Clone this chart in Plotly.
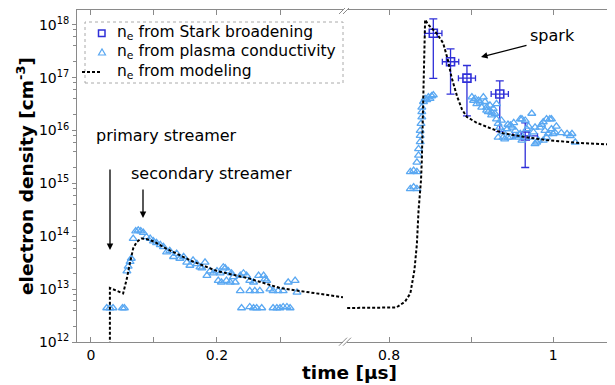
import plotly.graph_objects as go

# ---------------- data ----------------
# model curve (left part of broken axis)
model_t_left = [0.030, 0.030, 0.051, 0.057, 0.062, 0.067, 0.0725, 0.080, 0.088, 0.100, 0.120, 0.160, 0.200, 0.250, 0.300, 0.350, 0.400]
model_n_left = [3e11, 1.05e13, 8.3e12, 1.6e13, 3.2e13, 5.9e13, 7.8e13, 9.1e13, 8.9e13, 7.9e13, 5.8e13, 3.4e13, 2.2e13, 1.6e13, 1.05e13, 8.5e12, 7.0e12]
# model curve (right part)
model_t_right = [0.749, 0.809, 0.8195, 0.826, 0.831, 0.834, 0.836, 0.839, 0.840, 0.842, 0.844, 0.848, 0.858, 0.866, 0.872, 0.876, 0.883, 0.889, 0.895, 0.907, 0.923, 0.939, 0.964, 0.992, 1.033, 1.074]
model_n_right = [4.4e12, 4.5e12, 5.8e12, 8.3e12, 2.3e13, 7.2e13, 3.1e14, 1.15e15, 2.8e15, 1.0e17, 1.25e18, 1.0e18, 6.9e17, 4.5e17, 2.1e17, 1.05e17, 4.4e16, 2.5e16, 1.8e16, 1.4e16, 1.1e16, 8.9e15, 7.6e15, 6.6e15, 5.8e15, 5.4e15]

# Stark broadening measurements
stark_t = [0.854, 0.875, 0.895, 0.935, 0.966]
stark_t_err = [0.0105, 0.010, 0.0104, 0.0105, 0.015]
stark_n = [6.9e17, 2.0e17, 9.8e16, 4.9e16, 7.9e15]
stark_n_hi = [1.29e18, 3.5e17, 1.7e17, 8.7e16, 1.4e16]
stark_n_lo = [9.7e16, 4.9e16, 1.9e16, 9.5e15, 2.0e15]

# plasma conductivity (left part)
cond_t_left = [0.025, 0.030, 0.035, 0.050, 0.053, 0.057, 0.059, 0.062, 0.064, 0.067, 0.071, 0.075, 0.079, 0.083,
               0.088, 0.094, 0.099, 0.104, 0.110, 0.115, 0.120, 0.125, 0.131, 0.136, 0.141, 0.147, 0.152, 0.157,
               0.162, 0.168, 0.173, 0.176, 0.181, 0.184, 0.189, 0.194, 0.200, 0.202, 0.205, 0.207, 0.210, 0.213,
               0.215, 0.218, 0.221, 0.223, 0.226, 0.229, 0.237, 0.242, 0.247, 0.252, 0.258, 0.266, 0.274, 0.276,
               0.279, 0.284, 0.289, 0.297, 0.305, 0.313, 0.324, 0.327, 0.237, 0.252, 0.260, 0.268, 0.239, 0.252,
               0.258, 0.263, 0.271, 0.289, 0.295, 0.300, 0.305, 0.311, 0.316]
cond_n_left = [4.4e12, 4.4e12, 4.4e12, 4.4e12, 4.4e12, 2.2e13, 2.7e13, 3.3e13, 3.8e13, 9.0e13, 1.25e14, 1.3e14, 1.25e14, 1.17e14,
               9.7e13, 9.0e13, 8.1e13, 7.5e13, 6.9e13, 6.3e13, 5.0e13, 5.3e13, 4.1e13, 4.7e13, 3.8e13, 4.1e13, 3.2e13, 2.8e13,
               3.5e13, 3.0e13, 2.6e13, 2.5e13, 3.2e13, 1.8e13, 2.2e13, 2.0e13, 2.2e13, 1.45e13, 2.0e13, 1.35e13, 2.6e13, 2.5e13,
               1.45e13, 2.2e13, 1.35e13, 2.0e13, 1.7e13, 1.35e13, 1.8e13, 2.0e13, 1.8e13, 1.45e13, 1.35e13, 1.8e13, 1.8e13, 1.55e13,
               1.45e13, 1.0e13, 9.3e12, 9.3e12, 9.3e12, 1.35e13, 1.45e13, 8.7e12, 9.3e12, 9.3e12, 9.3e12, 9.3e12, 4.4e12, 4.6e12,
               4.4e12, 4.4e12, 4.4e12, 4.4e12, 4.4e12, 4.4e12, 4.6e12, 4.6e12, 4.4e12]

# plasma conductivity (right part)
cond_t_right = [0.826, 0.830, 0.834, 0.826, 0.830, 0.834, 0.834, 0.836, 0.836, 0.838, 0.838, 0.838, 0.839, 0.840,
                0.840, 0.840, 0.842, 0.844, 0.846, 0.848, 0.850, 0.852, 0.854,
                0.901, 0.905, 0.909, 0.915, 0.917, 0.907, 0.913, 0.919, 0.921, 0.923, 0.927, 0.929, 0.931, 0.925,
                0.931, 0.937, 0.935, 0.939, 0.944, 0.948, 0.950, 0.954, 0.962, 0.966, 0.974, 0.960, 0.968, 0.972,
                0.976, 0.978, 0.982, 0.984, 0.988, 0.992, 0.998, 0.998, 1.000, 0.992, 0.988, 1.017, 1.021, 1.027,
                0.956, 0.948, 0.939, 0.933, 0.941, 0.945, 0.960, 0.978, 0.980, 0.990, 0.994, 1.002, 0.958, 0.962,
                1.023, 0.996, 0.933, 0.903, 0.911, 0.919, 0.925, 0.945, 0.952, 0.970, 0.986, 1.004, 1.010]
cond_n_right = [7.9e14, 8.5e14, 7.9e14, 1.65e15, 1.75e15, 1.65e15, 2.5e15, 3.4e15, 4.5e15, 6.1e15, 8.0e15, 1.0e16, 1.35e16, 1.8e16,
                2.25e16, 2.75e16, 3.5e16, 4.0e16, 3.8e16, 4.3e16, 4.0e16, 4.5e16, 4.7e16,
                4.3e16, 4.0e16, 3.7e16, 4.3e16, 3.5e16, 3.2e16, 2.75e16, 2.75e16, 2.25e16, 3.0e16, 2.6e16, 2.1e16, 3.2e16, 1.95e16,
                1.65e16, 1.55e16, 1.15e16, 9.3e15, 1.07e16, 1.26e16, 1.15e16, 1.0e16, 1.65e16, 1.55e16, 2.1e16, 8.7e15, 1.07e16, 7.4e15,
                9.3e15, 5.6e15, 6.5e15, 1.15e16, 1.45e16, 1.65e16, 1.65e16, 1.07e16, 8.7e15, 7.4e15, 6.5e15, 8.7e15, 7.9e15, 6.0e15,
                7.9e15, 7.4e15, 7.4e15, 7.4e15, 6.9e15, 7.4e15, 1.65e16, 1.15e16, 6.0e15, 1.0e16, 8.7e15, 9.3e15, 7.4e15, 6.5e15,
                8.7e15, 1.65e16, 1.35e16, 3.7e16, 3.4e16, 2.4e16, 2.2e16, 1.3e16, 1.4e16, 1.2e16, 1.3e16, 1.2e16, 9.0e15]

y_tick_vals = [1e12, 1e13, 1e14, 1e15, 1e16, 1e17, 1e18]
y_tick_text = ["10<sup>12</sup>", "10<sup>13</sup>", "10<sup>14</sup>", "10<sup>15</sup>",
               "10<sup>16</sup>", "10<sup>17</sup>", "10<sup>18</sup>"]
x_left_ticks = [0, 0.1, 0.2, 0.3]
x_left_text = ["0", " ", "0.2", " "]
x_right_ticks = [0.8, 0.9, 1.0]
x_right_text = ["0.8", " ", "1"]
legend_labels = ["n<sub>e</sub> from Stark broadening", "n<sub>e</sub> from plasma conductivity",
                 "n<sub>e</sub> from modeling"]

# ---------------- style ----------------
OFF = 8                      # page body margin offset (screen px -> figure px)
W, H = 615 - OFF, 385 - OFF
ML, MR, MT, MB = 77 - OFF, 2, 10 - OFF, 43
PW, PH = W - ML - MR, H - MT - MB
FONT = "DejaVu Sans"
AX = "#8a8a8a"
TRI = "#5aa8f2"
SQ = "#2f2fd8"


def px(x):
    """screen x pixel -> paper coordinate"""
    return (x - OFF - ML) / PW


def py(y):
    """screen y pixel -> paper coordinate"""
    return 1 - (y - OFF - MT) / PH


fig = go.Figure()

model_style = dict(color="black", width=2, dash="3px,2px")
tri_marker = dict(symbol="triangle-up-open", size=7, color=TRI, line=dict(width=1.3, color=TRI))
fig.add_trace(go.Scatter(x=cond_t_left, y=cond_n_left, mode="markers", xaxis="x", yaxis="y",
                         marker=tri_marker, name=legend_labels[1]))
fig.add_trace(go.Scatter(x=model_t_left, y=model_n_left, mode="lines", xaxis="x", yaxis="y",
                         line=model_style, name=legend_labels[2]))
fig.add_trace(go.Scatter(x=stark_t, y=stark_n, mode="markers", xaxis="x2", yaxis="y2",
                         name=legend_labels[0],
                         marker=dict(symbol="square-open", size=8, color=SQ, line=dict(width=1.6, color=SQ)),
                         error_x=dict(type="data", array=stark_t_err, color=SQ, thickness=1.3, width=3),
                         error_y=dict(type="data", symmetric=False,
                                      array=[h - v for h, v in zip(stark_n_hi, stark_n)],
                                      arrayminus=[v - l for v, l in zip(stark_n, stark_n_lo)],
                                      color=SQ, thickness=1.3, width=4)))
fig.add_trace(go.Scatter(x=cond_t_right, y=cond_n_right, mode="markers", xaxis="x2", yaxis="y2",
                         name=legend_labels[1], marker=tri_marker))
fig.add_trace(go.Scatter(x=model_t_right, y=model_n_right, mode="lines", xaxis="x2", yaxis="y2",
                         name=legend_labels[2], line=model_style))

common_x = dict(showgrid=False, zeroline=False, showline=True, linecolor=AX, linewidth=1,
                ticks="inside", ticklen=5, tickcolor=AX, mirror="ticks", automargin=False,
                tickfont=dict(family=FONT, size=14, color="black"))
common_y = dict(type="log", range=[12, 18.28], showgrid=False, zeroline=False, showline=True,
                linecolor=AX, linewidth=1, tickcolor=AX, tickvals=y_tick_vals, automargin=False)
minor_vals = [m * 10 ** e for e in range(12, 19) for m in (2, 4, 6, 8)]

fig.update_layout(
    width=W, height=H, margin=dict(l=ML, r=MR, t=MT, b=MB, autoexpand=False),
    paper_bgcolor="white", plot_bgcolor="white",
    font=dict(family=FONT, size=14, color="black"),
    showlegend=False,
    xaxis=dict(domain=[0, px(343)], range=[-0.0222, 0.4], anchor="y",
               tickvals=x_left_ticks, ticktext=x_left_text, **common_x),
    xaxis2=dict(domain=[px(347), 1], range=[0.7488, 1.073], anchor="y2",
                tickvals=x_right_ticks, ticktext=x_right_text, **common_x),
    yaxis=dict(anchor="x", ticks="outside", ticklen=4, ticktext=y_tick_text,
               tickfont=dict(family=FONT, size=14, color="black"),
               minor=dict(tickvals=minor_vals, ticks="outside", ticklen=3, tickcolor=AX, showgrid=False),
               **common_y),
    yaxis2=dict(anchor="x2", matches="y", side="right", ticks="inside", ticklen=5,
                showticklabels=False,
                minor=dict(tickvals=minor_vals, ticks="inside", ticklen=3, tickcolor=AX, showgrid=False),
                **common_y),
)

shapes = []
# dotted legend frame
shapes.append(dict(type="rect", xref="paper", yref="paper", x0=px(85), x1=px(343), y0=py(83), y1=py(22),
                   line=dict(color="#aaaaaa", width=1, dash="dot")))
# legend symbols
shapes.append(dict(type="rect", xref="paper", yref="paper", x0=px(98.5), x1=px(105), y0=py(36.5), y1=py(30),
                   line=dict(color=SQ, width=1.5)))
shapes.append(dict(type="path", xref="paper", yref="paper",
                   path=f"M {px(98.5)} {py(55)} L {px(105.5)} {py(55)} L {px(102)} {py(49)} Z",
                   line=dict(color=TRI, width=1.2)))
shapes.append(dict(type="line", xref="paper", yref="paper", x0=px(82), x1=px(100), y0=py(72), y1=py(72),
                   line=dict(color="black", width=2, dash="3px,2px")))
# axis break marks
for bx in (343, 347):
    for by in (10, 341.7):
        shapes.append(dict(type="line", xref="paper", yref="paper",
                           x0=px(bx - 4), y0=py(by + 4), x1=px(bx + 4), y1=py(by - 4),
                           line=dict(color=AX, width=1)))
fig.update_layout(shapes=shapes)

ann = []
for lbl, yy in zip(legend_labels, (33, 52, 72)):
    ann.append(dict(text=lbl, xref="paper", yref="paper", x=px(115), y=py(yy), xanchor="left",
                    yanchor="middle", showarrow=False, font=dict(family=FONT, size=15.5, color="black")))
ann.append(dict(text="<b>electron density [cm<sup>-3</sup>]</b>", xref="paper", yref="paper",
                x=px(25), y=py(176), textangle=-90, showarrow=False,
                font=dict(family=FONT, size=18.5, color="black"), xanchor="center", yanchor="middle"))
ann.append(dict(text="<b>time [µs]</b>", xref="paper", yref="paper", x=px(349), y=py(372),
                showarrow=False, font=dict(family=FONT, size=18.5, color="black"),
                xanchor="center", yanchor="middle"))
for txt, tx, ty in (("primary streamer", 166, 135), ("secondary streamer", 211, 174), ("spark", 552, 35)):
    ann.append(dict(text=txt, xref="paper", yref="paper", x=px(tx), y=py(ty), xanchor="center",
                    yanchor="middle", showarrow=False, font=dict(family=FONT, size=16, color="black")))
arrow = dict(text="", showarrow=True, arrowhead=2, arrowsize=1, arrowwidth=1.3, arrowcolor="black")
ann.append(dict(xref="paper", yref="paper", x=px(110), y=py(250), ax=0, ay=-82, **arrow))
ann.append(dict(xref="paper", yref="paper", x=px(143), y=py(218), ax=0, ay=-30, **arrow))
ann.append(dict(xref="paper", yref="paper", x=px(481), y=py(57), ax=47, ay=-12, **arrow))
fig.update_layout(annotations=ann)

fig.write_html("out.html")
